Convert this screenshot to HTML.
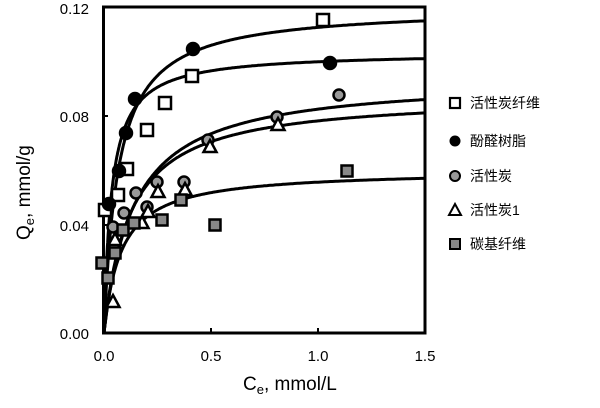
<!DOCTYPE html>
<html><head><meta charset="utf-8"><style>
html,body{margin:0;padding:0;background:#fff;width:600px;height:408px;overflow:hidden}
text{font-family:"Liberation Sans","Noto Sans CJK SC",sans-serif;fill:#000}
</style></head><body>
<svg id="s" width="600" height="408" viewBox="0 0 600 408" xmlns="http://www.w3.org/2000/svg">
<rect x="103.5" y="7" width="321.5" height="326" fill="none" stroke="#000" stroke-width="3"/>
<g stroke="#000" stroke-width="2">
<line x1="211" y1="333" x2="211" y2="328"/><line x1="318" y1="333" x2="318" y2="328"/>
<line x1="103" y1="116" x2="108" y2="116"/><line x1="103" y1="225" x2="108" y2="225"/>
</g>
<g font-size="15" text-anchor="end">
<text x="89" y="14">0.12</text><text x="89" y="122">0.08</text>
<text x="89" y="231">0.04</text><text x="89" y="339">0.00</text>
</g>
<g font-size="15" text-anchor="middle">
<text x="104" y="361">0.0</text><text x="211" y="361">0.5</text>
<text x="318" y="361">1.0</text><text x="425" y="361">1.5</text>
</g>
<text x="243" y="390" font-size="19">C<tspan font-size="13" dy="4">e</tspan><tspan dy="-4">, mmol/L</tspan></text>
<text transform="translate(30,240) rotate(-90)" font-size="19">Q<tspan font-size="13" dy="4">e</tspan><tspan dy="-4">, mmol/g</tspan></text>
<g id="curves" fill="none" stroke="#000" stroke-width="3"></g>
<g id="pts" stroke="#000" stroke-width="2.5"></g>
<g font-size="14">
<rect x="450" y="98" width="10" height="10" fill="#fff" stroke="#000" stroke-width="2.2"/>
<text x="470" y="108">活性炭纤维</text>
<circle cx="455" cy="141" r="5.5" fill="#000"/>
<text x="470" y="146">酚醛树脂</text>
<circle cx="455" cy="176" r="5" fill="#999" stroke="#000" stroke-width="2"/>
<text x="470" y="181">活性炭</text>
<polygon points="455,204 461,215 449,215" fill="#fff" stroke="#000" stroke-width="2"/>
<text x="470" y="215">活性炭1</text>
<rect x="450" y="239" width="10" height="10" fill="#888" stroke="#000" stroke-width="2"/>
<text x="470" y="249">碳基纤维</text>
</g>
</svg>
<script>
var NS="http://www.w3.org/2000/svg";
function X(v){return 104+214*v}function Y(q){return 333-q*2716.7}
var cs=[[0.120,15],[0.1034,28],[0.094,7.1],[0.0876,8.2],[0.060,12.4]];
var g=document.getElementById('curves');
cs.forEach(function(c){var d="";for(var i=0;i<=300;i++){var x=1.5*Math.pow(i/300,2);var q=c[0]*c[1]*x/(1+c[1]*x);d+=(i?"L":"M")+X(x).toFixed(1)+","+Y(q).toFixed(1);}
var p=document.createElementNS(NS,"path");p.setAttribute("d",d);g.appendChild(p);});
var P=document.getElementById('pts');
function el(t,a){var e=document.createElementNS(NS,t);for(var k in a)e.setAttribute(k,a[k]);P.appendChild(e);}
[[105,210],[118,195],[127,169],[147,130],[165,103],[192,76],[323,20]].forEach(function(p){el("rect",{x:p[0]-6,y:p[1]-6,width:12,height:12,fill:"#fff"});});
[[109,204],[119,171],[126,133],[135,99],[193,49],[330,63]].forEach(function(p){el("circle",{cx:p[0],cy:p[1],r:6,fill:"#000"});});
[[113,227],[124,213],[136,193],[147,207],[157,182],[184,182],[208,140],[277,117],[339,95]].forEach(function(p){el("circle",{cx:p[0],cy:p[1],r:5.5,fill:"#999"});});
[[113,302],[115,240],[142,223],[148,212],[158,192],[185,190],[210,147],[278,125]].forEach(function(p){el("polygon",{points:p[0]+","+(p[1]-7)+" "+(p[0]+6.5)+","+(p[1]+5)+" "+(p[0]-6.5)+","+(p[1]+5),fill:"#fff"});});
[[102,263],[108,278],[115,253],[123,230],[134,223],[162,220],[181,200],[215,225],[347,171]].forEach(function(p){el("rect",{x:p[0]-5.5,y:p[1]-5.5,width:11,height:11,fill:"#888"});});
</script>
</body></html>
